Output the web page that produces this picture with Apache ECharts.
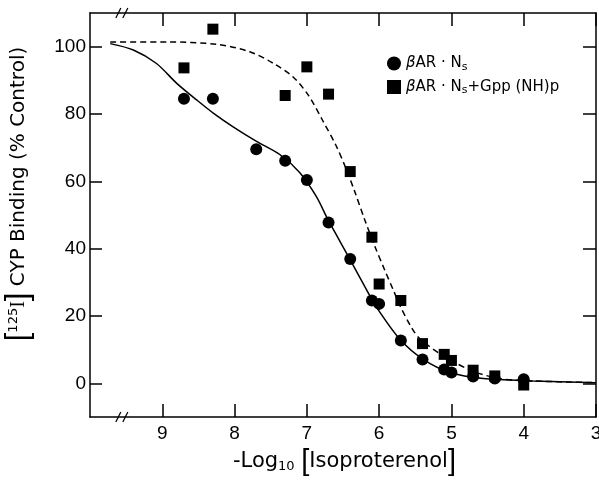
<!DOCTYPE html>
<html><head><meta charset="utf-8">
<script src="https://cdn.jsdelivr.net/npm/echarts@6/dist/echarts.min.js"></script>
<style>html,body{margin:0;padding:0;background:#fff}#c{width:599px;height:487px}</style>
</head><body><div id="c"></div>
<script>
// Data points: x = -log10[Isoproterenol], y = % control binding
const circX = [8.7, 8.3, 7.7, 7.3, 7.0, 6.7, 6.4, 6.1, 6.0, 5.7, 5.4, 5.1, 5.0, 4.7, 4.4, 4.0];
const circY = [84.5, 84.5, 69.5, 66.1, 60.4, 47.8, 36.9, 24.6, 23.6, 12.7, 7.1, 4.1, 3.2, 2.0, 1.4, 1.2];
const sqX = [8.7, 8.3, 7.3, 7.0, 6.7, 6.4, 6.1, 6.0, 5.7, 5.4, 5.1, 5.0, 4.7, 4.4, 4.0];
const sqY = [93.7, 105.2, 85.5, 94.0, 85.9, 62.9, 43.4, 29.5, 24.6, 11.8, 8.6, 6.8, 3.9, 2.2, -0.5];
// Fitted curves
const solidX = [9.72, 9.40, 9.08, 8.80, 8.52, 8.29, 8.02, 7.69, 7.37, 7.10, 6.87, 6.70, 6.40, 6.20, 6.03, 5.71, 5.39, 5.02, 4.56, 3.87, 3.0];
const solidY = [100.9, 99.0, 95.0, 89.1, 84.1, 80.2, 76.2, 71.8, 67.9, 62.6, 55.5, 48.3, 36.7, 28.8, 22.4, 13.0, 7.1, 3.2, 1.4, 0.7, 0.2];
const dashX = [9.72, 8.94, 8.25, 7.79, 7.46, 7.19, 6.98, 6.78, 6.60, 6.47, 6.33, 6.20, 6.06, 5.92, 5.80, 5.71, 5.55, 5.44, 5.11, 4.70, 4.33, 3.87, 3.0];
const dashY = [101.4, 101.4, 100.7, 98.5, 95.0, 91.0, 85.6, 78.0, 70.8, 64.4, 56.5, 48.6, 40.7, 33.5, 27.5, 23.0, 16.5, 13.3, 8.1, 3.6, 1.4, 0.7, 0.2];
const xTicks = [9, 8, 7, 6, 5, 4, 3];
const yTicks = [0, 20, 40, 60, 80, 100];
const seriesNames = ['βAR·Ns', 'βAR·Ns+Gpp(NH)p'];

const zip = (a, b) => a.map((v, i) => [v, b[i]]);
const FONT = 'Liberation Sans';
const WIDE = 'DejaVu Sans';
const chart = echarts.init(document.getElementById('c'));
const lineSt = { color: '#000', width: 1.5 };
const axisBase = {
  type: 'value', min: 3, max: 10, inverse: true,
  axisLine: { show: true, onZero: false, lineStyle: lineSt },
  splitLine: { show: false }
};
const option = {
  animation: false,
  backgroundColor: '#fff',
  grid: { left: 90, right: 3, top: 13, bottom: 70, containLabel: false, outerBoundsMode: 'none' },
  legend: {
    orient: 'vertical', left: 382, top: 51, itemGap: 7,
    itemWidth: 14, itemHeight: 14,
    data: [{ name: seriesNames[0], icon: 'circle' }, { name: seriesNames[1], icon: 'rect' }],
    formatter: n => n === seriesNames[0]
      ? '{it|β}AR · N{sub|s}'
      : '{it|β}AR · N{sub|s}+Gpp (NH)p',
    textStyle: {
      fontFamily: WIDE, fontSize: 15, color: '#000',
      rich: {
        it: { fontStyle: 'italic', fontSize: 15, fontFamily: WIDE },
        sub: { fontSize: 11, padding: [7, 0, 0, 0], fontFamily: WIDE }
      }
    }
  },
  xAxis: [
    Object.assign({}, axisBase, {
      position: 'bottom',
      axisTick: { inside: true, length: 13, customValues: xTicks, lineStyle: lineSt },
      axisLabel: { customValues: xTicks, fontFamily: FONT, fontSize: 19, color: '#000', margin: 7 }
    }),
    Object.assign({}, axisBase, {
      position: 'top',
      axisTick: { inside: true, length: 13, customValues: xTicks, lineStyle: lineSt },
      axisLabel: { show: false }
    })
  ],
  yAxis: [
    {
      type: 'value', min: -10, max: 110, position: 'left',
      axisLine: { show: true, onZero: false, lineStyle: lineSt },
      splitLine: { show: false },
      axisTick: { inside: true, length: 12, customValues: yTicks, lineStyle: lineSt },
      axisLabel: { customValues: yTicks, fontFamily: FONT, fontSize: 19, color: '#000', margin: 4 },
      name: '{br|[}{sup|125}{i|I}{br|]} CYP Binding (% Control)',
      nameLocation: 'middle', nameGap: 56, nameRotate: 90,
      nameTextStyle: {
        fontFamily: WIDE, fontSize: 20, color: '#000', padding: [0, 0, 0, 42],
        rich: {
          br: { fontSize: 31, fontFamily: FONT },
          sup: { fontSize: 13, fontFamily: WIDE, padding: [0, 0, 9, 0] },
          i: { fontSize: 20, fontFamily: 'Liberation Serif' }
        }
      }
    },
    {
      type: 'value', min: -10, max: 110, position: 'right',
      axisLine: { show: true, onZero: false, lineStyle: lineSt },
      splitLine: { show: false },
      axisTick: { inside: true, length: 13, customValues: yTicks, lineStyle: lineSt },
      axisLabel: { show: false }
    }
  ],
  series: [
    {
      name: 'fitSolid', type: 'line', data: zip(solidX, solidY), smooth: 0.3,
      symbol: 'none', lineStyle: { color: '#000', width: 1.5 }, silent: true, z: 2
    },
    {
      name: 'fitDashed', type: 'line', data: zip(dashX, dashY), smooth: 0.3,
      symbol: 'none', lineStyle: { color: '#000', width: 1.5, type: [6, 4] }, silent: true, z: 2
    },
    {
      name: seriesNames[0], type: 'scatter', data: zip(circX, circY),
      symbol: 'circle', symbolSize: 12, itemStyle: { color: '#000', opacity: 1 }, z: 3
    },
    {
      name: seriesNames[1], type: 'scatter', data: zip(sqX, sqY),
      symbol: 'rect', symbolSize: 11, itemStyle: { color: '#000', opacity: 1 }, z: 3
    }
  ],
  graphic: [
    {
      type: 'text', left: 233, top: 447,
      style: {
        text: '-Log{sub|10} {br|[}Isoproterenol{br|]}',
        fontFamily: WIDE, fontSize: 21, fill: '#000',
        rich: {
          sub: { fontSize: 13, fontFamily: WIDE, padding: [10, 0, 0, 0] },
          br: { fontSize: 29, fontFamily: FONT }
        }
      }
    }
  ]
};
chart.setOption(option);

// axis break marks "//" on top and bottom axes
const bx = chart.convertToPixel({ xAxisIndex: 0 }, 9.56);
const yTop = chart.convertToPixel({ yAxisIndex: 0 }, 110);
const yBot = chart.convertToPixel({ yAxisIndex: 0 }, -10);
const breakMark = y => ({
  type: 'group', x: bx, y: y, z: 100, children: [
    { type: 'rect', shape: { x: -4, y: -3, width: 8, height: 6 }, style: { fill: '#fff' } },
    { type: 'line', shape: { x1: -6, y1: 5, x2: -1, y2: -5 }, style: { stroke: '#000', lineWidth: 1.3 } },
    { type: 'line', shape: { x1: 1, y1: 5, x2: 6, y2: -5 }, style: { stroke: '#000', lineWidth: 1.3 } }
  ]
});
chart.setOption({ graphic: option.graphic.concat([breakMark(yTop), breakMark(yBot)]) });
</script></body></html>
